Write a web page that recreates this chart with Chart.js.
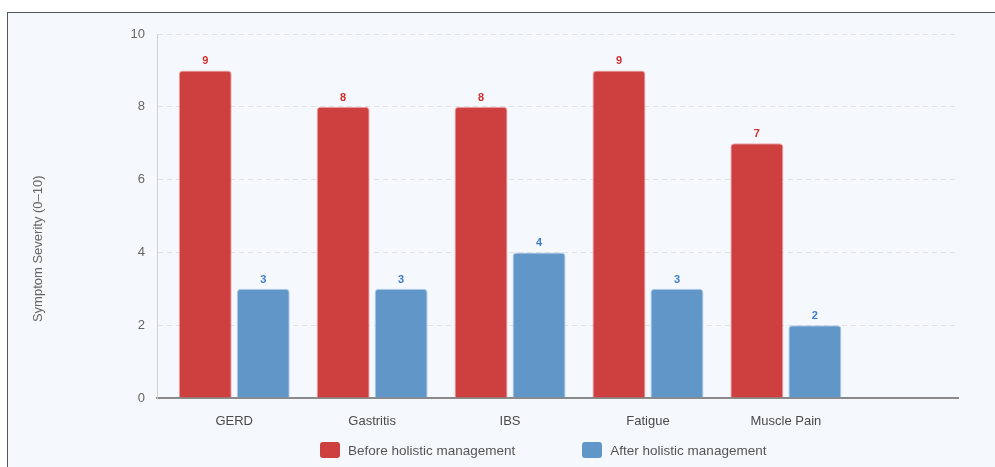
<!DOCTYPE html>
<html>
<head>
<meta charset="utf-8">
<script src="https://cdn.jsdelivr.net/npm/chart.js@4/dist/chart.umd.min.js"></script>
<style>
  html, body { margin: 0; padding: 0; background: #fff; overflow: hidden; }
  body { width: 995px; height: 467px; position: relative; font-family: "Liberation Sans", Arial, sans-serif; }
  .frame { position: absolute; left: 7px; top: 12px; width: 1000px; height: 500px; border: 1px solid #555; background: #f5f8fc; }
  .wrap { position: absolute; left: 0; top: 0; width: 995px; height: 467px; }
  #legend { position: absolute; left: 320px; top: 442px; display: flex; gap: 67px; font-size: 13.5px; color: #555; }
  #legend .item { display: flex; align-items: center; }
  #legend .box { width: 20px; height: 16px; border-radius: 3px; margin-right: 8px; }
</style>
</head>
<body>
<div class="frame"></div>
<div class="wrap"><canvas id="chart" width="995" height="467"></canvas></div>
<div id="legend"></div>
<script>
// chart data
const CATEGORIES = ['GERD', 'Gastritis', 'IBS', 'Fatigue', 'Muscle Pain'];
const BEFORE = [9, 8, 8, 9, 7];
const AFTER = [3, 3, 4, 3, 2];
const SERIES_NAMES = ['Before holistic management', 'After holistic management'];
const Y_TICKS = [0, 2, 4, 6, 8, 10];
const Y_TITLE = 'Symptom Severity (0–10)';

const RED = 'rgb(206, 64, 64)';
const BLUE = 'rgb(97, 150, 201)';
const RED_TEXT = '#d32f2f';
const BLUE_TEXT = '#3d7cc9';
const FONT = '"Liberation Sans", Arial, sans-serif';

// value labels above bars + y axis title (sits a bit below the axis middle)
const valueLabels = {
    id: 'valueLabels',
    afterDatasetsDraw(chart) {
        const ctx = chart.ctx;
        ctx.save();
        ctx.font = 'bold 11px ' + FONT;
        ctx.textAlign = 'center';
        ctx.textBaseline = 'alphabetic';
        chart.data.datasets.forEach((ds, i) => {
            const meta = chart.getDatasetMeta(i);
            ctx.fillStyle = ds.labelColor;
            meta.data.forEach((bar, j) => {
                ctx.fillText(String(ds.data[j].y), bar.x, bar.y - 6);
            });
        });
        ctx.restore();
    },
    afterDraw(chart) {
        const ctx = chart.ctx;
        const area = chart.chartArea;
        ctx.save();
        ctx.font = '13px ' + FONT;
        ctx.fillStyle = '#666';
        ctx.textAlign = 'center';
        ctx.textBaseline = 'middle';
        ctx.translate(38, area.top + (area.bottom - area.top) * 0.59);
        ctx.rotate(-Math.PI / 2);
        ctx.fillText(Y_TITLE, 0, 0);
        ctx.restore();
    }
};

const chart = new Chart(document.getElementById('chart'), {
    type: 'bar',
    data: {
        datasets: [{
            label: SERIES_NAMES[0],
            data: CATEGORIES.map((c, i) => ({x: i, y: BEFORE[i]})),
            backgroundColor: RED,
            borderColor: 'rgba(235, 150, 150, 0.8)',
            borderWidth: 1,
            borderRadius: 4,
            labelColor: RED_TEXT
        }, {
            label: SERIES_NAMES[1],
            data: CATEGORIES.map((c, i) => ({x: i, y: AFTER[i]})),
            backgroundColor: BLUE,
            borderColor: 'rgba(160, 195, 230, 0.8)',
            borderWidth: 1,
            borderRadius: 4,
            labelColor: BLUE_TEXT
        }]
    },
    options: {
        responsive: false,
        animation: false,
        categoryPercentage: 0.841,
        barPercentage: 0.914,
        layout: { padding: { left: 26, right: 37, top: 34, bottom: 0 } },
        plugins: {
            legend: { display: false },
            tooltip: { enabled: false }
        },
        scales: {
            x: {
                type: 'linear',
                min: -0.56,
                max: 5.248,
                offset: false,
                grid: { display: false, offset: false },
                border: { display: true, color: '#8a8a8a', width: 2 },
                afterBuildTicks: (scale) => {
                    scale.ticks = CATEGORIES.map((c, i) => ({value: i}));
                },
                afterFit: (scale) => { scale.height = 69; },
                ticks: {
                    autoSkip: false,
                    maxRotation: 0,
                    padding: 8,
                    color: '#4a4a4a',
                    font: { family: FONT, size: 13 },
                    callback: (v) => CATEGORIES[v]
                }
            },
            y: {
                min: 0,
                max: 10,
                afterBuildTicks: (scale) => {
                    scale.ticks = Y_TICKS.map(v => ({value: v}));
                },
                afterFit: (scale) => { scale.width = 131; },
                grid: { color: '#e2e2e2', drawTicks: false },
                border: { display: true, color: '#cfcfcf', width: 1, dash: [5, 4] },
                ticks: {
                    padding: 12,
                    color: '#666',
                    font: { family: FONT, size: 13 }
                }
            }
        }
    },
    plugins: [valueLabels]
});

// legend built from the datasets
const legend = document.getElementById('legend');
chart.data.datasets.forEach(ds => {
    const item = document.createElement('div');
    item.className = 'item';
    const box = document.createElement('span');
    box.className = 'box';
    box.style.background = ds.backgroundColor;
    const txt = document.createElement('span');
    txt.textContent = ds.label;
    item.appendChild(box);
    item.appendChild(txt);
    legend.appendChild(item);
});
</script>
</body>
</html>
